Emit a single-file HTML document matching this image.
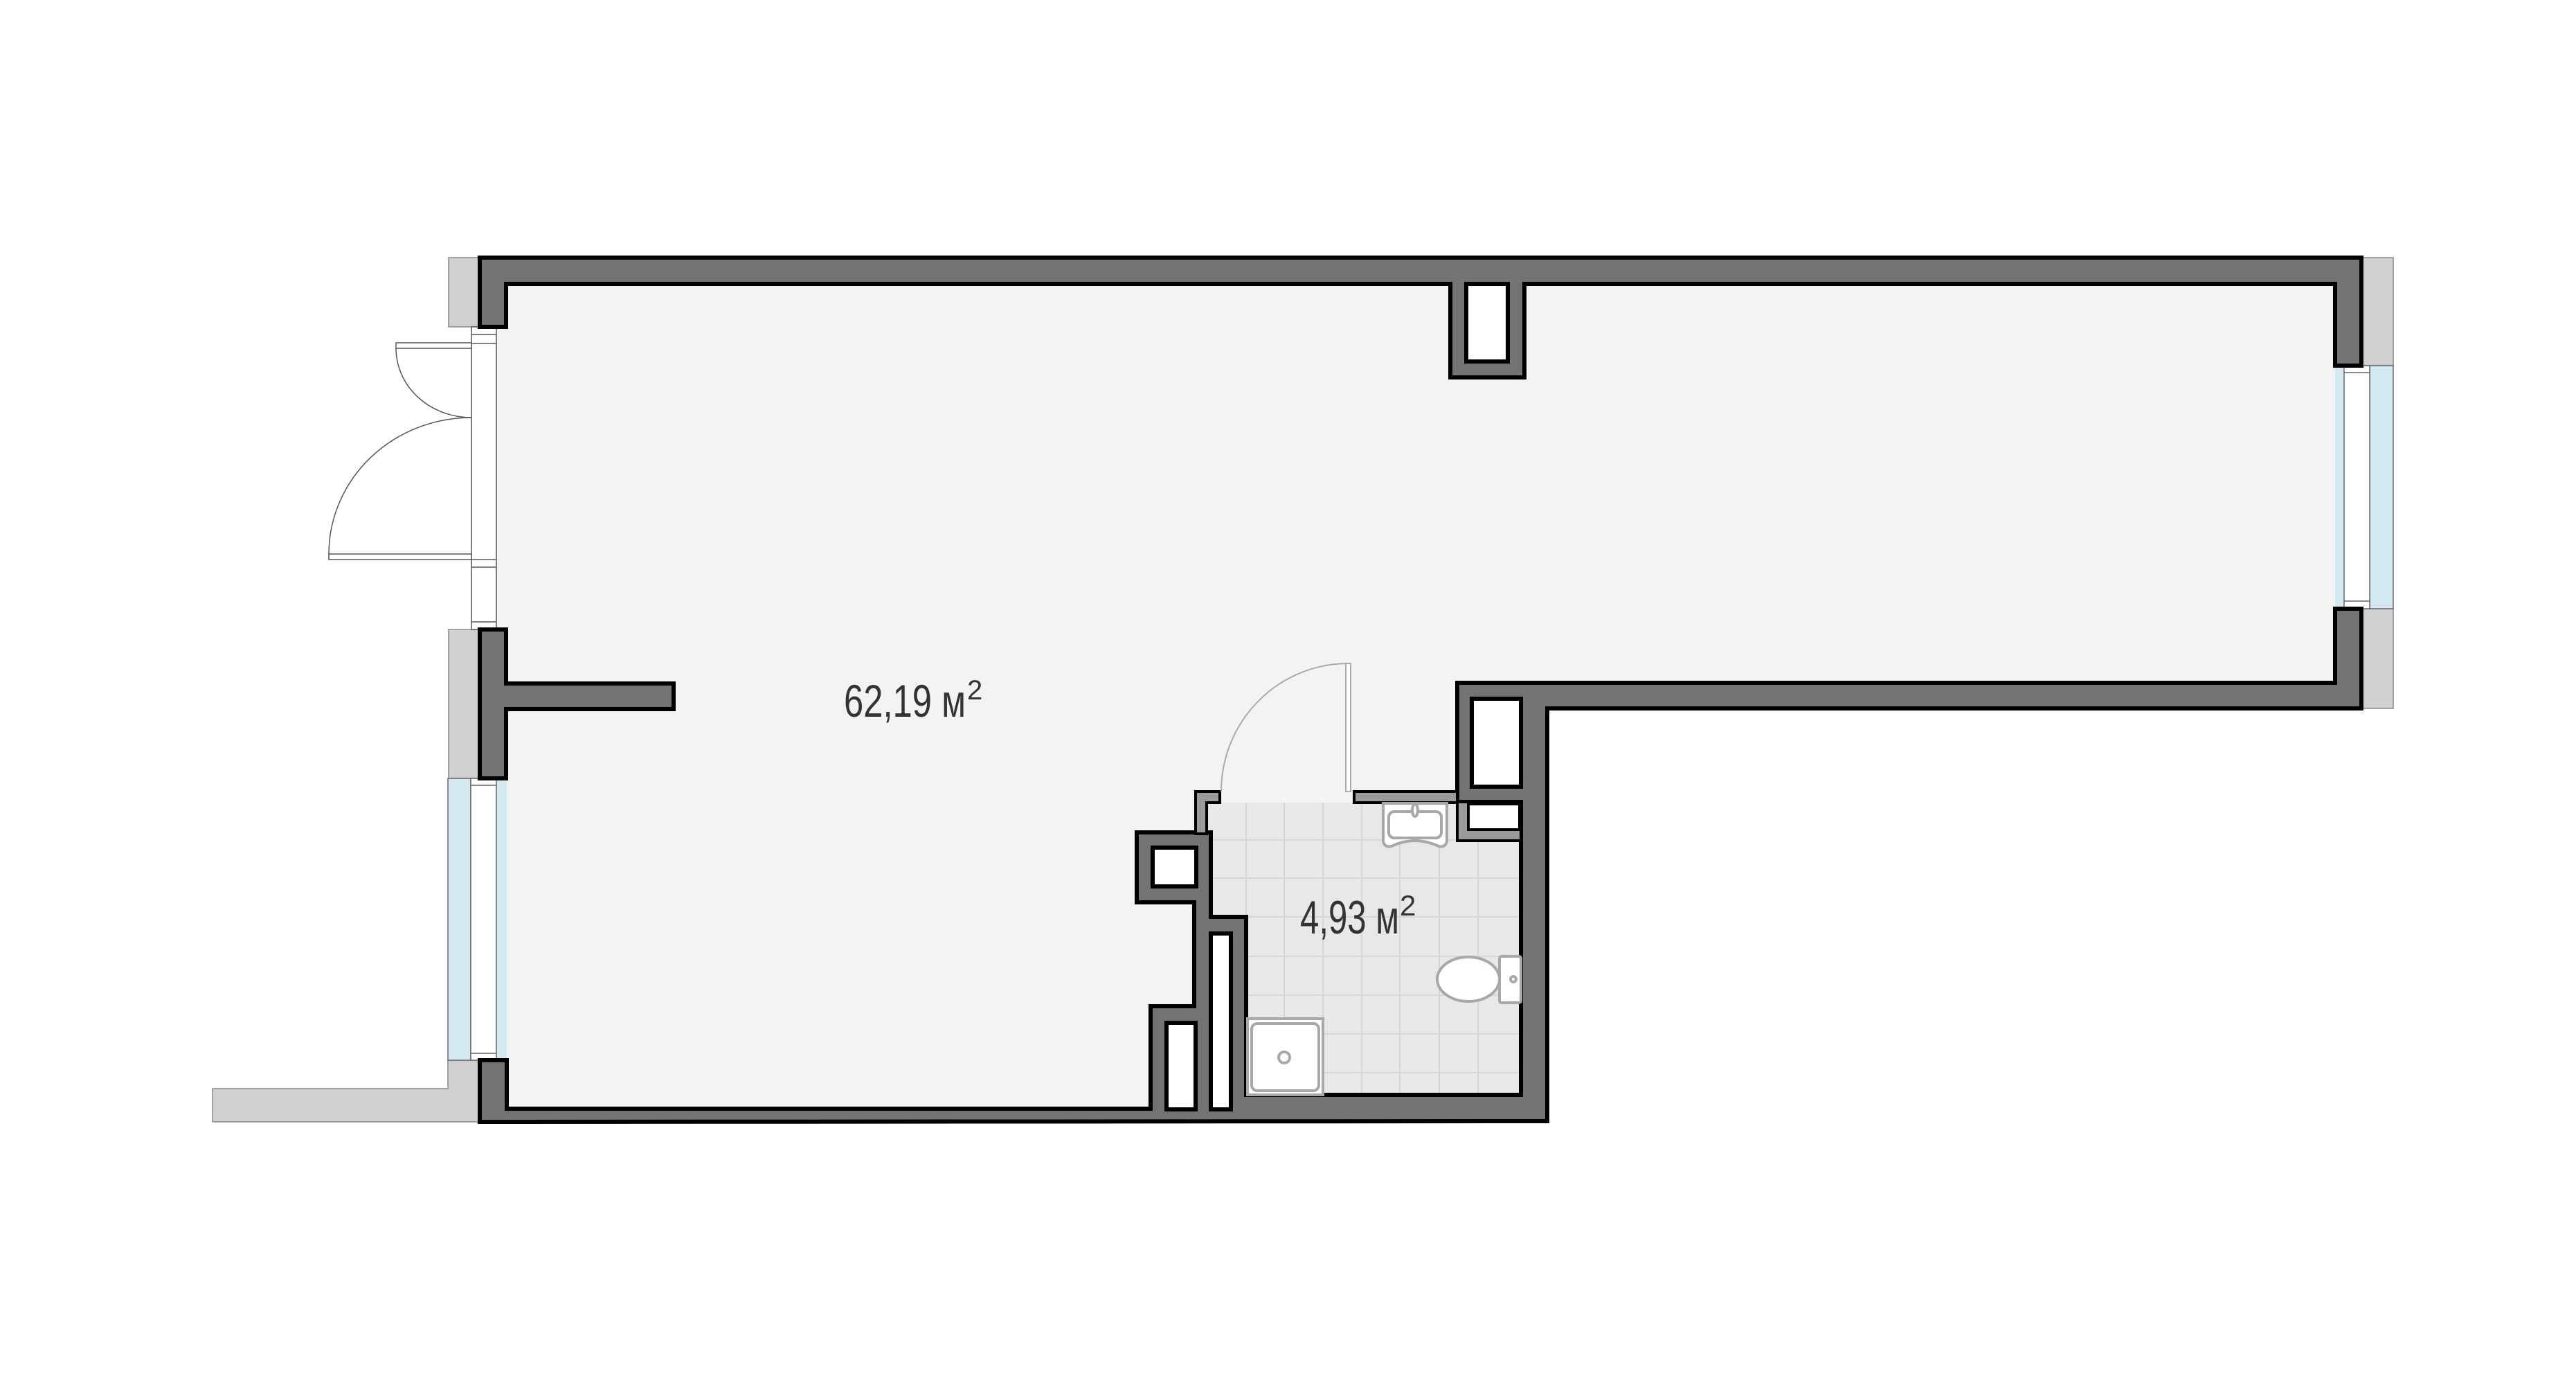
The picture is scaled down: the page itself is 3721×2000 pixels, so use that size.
<!DOCTYPE html>
<html><head><meta charset="utf-8"><style>html,body{margin:0;padding:0;background:#fff}svg{display:block}</style></head>
<body>
<svg width="3721" height="2000" viewBox="0 0 3721 2000" xmlns="http://www.w3.org/2000/svg">
<rect width="3721" height="2000" fill="#fff"/>
<!-- floors -->
<rect x="717" y="405" width="2660" height="585" fill="#f3f3f3"/>
<rect x="717" y="980" width="1392" height="625" fill="#f3f3f3"/>
<!-- bath floor -->
<rect x="1743" y="1159" width="454" height="422" fill="#e8e8e8"/>
<g stroke="#d6d6d6" stroke-width="2">
<line x1="1800" y1="1159" x2="1800" y2="1581"/><line x1="1855" y1="1159" x2="1855" y2="1581"/><line x1="1911" y1="1159" x2="1911" y2="1581"/><line x1="1967" y1="1159" x2="1967" y2="1581"/><line x1="2022" y1="1159" x2="2022" y2="1581"/><line x1="2079" y1="1159" x2="2079" y2="1581"/><line x1="2135" y1="1159" x2="2135" y2="1581"/>
<line x1="1743" y1="1213" x2="2197" y2="1213"/><line x1="1743" y1="1268" x2="2197" y2="1268"/><line x1="1743" y1="1324" x2="2197" y2="1324"/><line x1="1743" y1="1381" x2="2197" y2="1381"/><line x1="1743" y1="1437" x2="2197" y2="1437"/><line x1="1743" y1="1493" x2="2197" y2="1493"/><line x1="1743" y1="1549" x2="2197" y2="1549"/>
</g>
<!-- outside grey blocks -->
<g fill="#d0d0d0" stroke="#888" stroke-width="1.5">
<rect x="648" y="372" width="45" height="100"/>
<rect x="648" y="909" width="45" height="215"/>
<path d="M307,1572 L647,1572 L647,1531 L693,1531 L693,1620 L307,1620 Z"/>
<rect x="3411" y="372" width="46" height="156"/>
<rect x="3411" y="879" width="46" height="144"/>
</g>
<!-- windows -->
<g stroke="#666" stroke-width="1.5">
<rect x="647" y="1124" width="33" height="407" fill="#d3e9f1"/>
<rect x="717" y="1124" width="15" height="407" fill="#d3e9f1" stroke="none"/>
<rect x="680" y="1124" width="37" height="407" fill="#fff"/>
<line x1="680" y1="1134" x2="717" y2="1134"/><line x1="680" y1="1521" x2="717" y2="1521"/>
<rect x="3423" y="528" width="34" height="351" fill="#d3e9f1"/>
<rect x="3373" y="528" width="13" height="351" fill="#d3e9f1" stroke="none"/>
<rect x="3386" y="528" width="37" height="351" fill="#fff"/>
<line x1="3386" y1="538" x2="3423" y2="538"/><line x1="3386" y1="868" x2="3423" y2="868"/>
</g>
<!-- entrance door -->
<g stroke="#555" stroke-width="1.5" fill="#fff">
<rect x="681" y="472" width="36" height="437"/>
<line x1="681" y1="483" x2="717" y2="483"/><line x1="681" y1="496" x2="717" y2="496"/>
<line x1="681" y1="808" x2="717" y2="808"/><line x1="681" y1="819" x2="717" y2="819"/><line x1="681" y1="898" x2="717" y2="898"/>
<rect x="572" y="495" width="109" height="8"/>
<rect x="475" y="800" width="206" height="8"/>
<path d="M572,503 A109,100 0 0 0 681,603" fill="none"/>
<path d="M475,800 A206,197 0 0 1 681,603" fill="none"/>
</g>
<!-- walls -->
<g fill="#737373" stroke="#000" stroke-width="6" stroke-linejoin="miter">
<path d="M693,472 L693,372 L3411,372 L3411,528 L3373,528 L3373,410 L2202,410 L2202,545 L2095,545 L2095,410 L731,410 L731,472 Z"/>
<path d="M693,909 L731,909 L731,987 L973,987 L973,1024 L731,1024 L731,1124 L693,1124 Z"/>
<path d="M3373,879 L3411,879 L3411,1023 L2235,1023 L2235,1619 L693,1620 L693,1531 L732,1531 L732,1601 L1662,1601 L1662,1453 L1725,1453 L1725,1303 L1642,1303 L1642,1202 L1749,1202 L1749,1324 L1800,1324 L1800,1581 L2197,1581 L2197,1158 L2105,1158 L2105,986 L3373,986 Z"/>
</g>
<g fill="#fff" stroke="#000" stroke-width="6">
<rect x="2118" y="410" width="60" height="112"/>
<rect x="2126" y="1009" width="71" height="127"/>
<rect x="1665" y="1224" width="63" height="56"/>
<rect x="1685" y="1477" width="42" height="125"/>
<rect x="1749" y="1348" width="29" height="254"/>
</g>
<!-- light grey partitions -->
<g fill="#9a9a9a" stroke="#000" stroke-width="4">
<path d="M2105,1158 L2197,1158 L2197,1214 L2105,1214 Z"/>
<rect x="1956" y="1143" width="149" height="16"/>
<path d="M1727,1143 L1762,1143 L1762,1159 L1743,1159 L1743,1204 L1727,1204 Z"/>
</g>
<rect x="2121" y="1161" width="74" height="37" fill="#fff" stroke="#000" stroke-width="4"/>
<!-- bath door -->
<g stroke="#aaa" stroke-width="2" fill="#fff">
<rect x="1944" y="958" width="7" height="185"/>
<path d="M1948,958 A184,185 0 0 0 1764,1143" fill="none"/>
</g>
<!-- fixtures -->
<g stroke="#a8a8a8" stroke-width="4" fill="#fff">
<path d="M1998,1160 L2090,1160 L2090,1215 Q2088,1224 2078,1222 Q2044,1206 2010,1222 Q2000,1224 1998,1215 Z"/>
<rect x="2006" y="1172" width="76" height="38" rx="8"/>
<ellipse cx="2044" cy="1170" rx="4" ry="9" fill="#fff"/>
<rect x="2166" y="1381" width="31" height="67" rx="3"/>
<ellipse cx="2121" cy="1414" rx="45" ry="32"/>
<circle cx="2186" cy="1414" r="4"/>
<rect x="1802" y="1471" width="109" height="110"/>
<rect x="1808" y="1478" width="97" height="97" rx="8"/>
<circle cx="1855" cy="1527" r="8"/>
</g>
<!-- labels -->
<g font-family="'Liberation Sans Narrow','Liberation Sans',sans-serif" fill="#333">
<text x="1219" y="1035" font-size="66" textLength="176" lengthAdjust="spacingAndGlyphs">62,19 м</text>
<text x="1397" y="1010" font-size="40">2</text>
<text x="1878" y="1348" font-size="68" textLength="143" lengthAdjust="spacingAndGlyphs">4,93 м</text>
<text x="2022" y="1322" font-size="42">2</text>
</g>
</svg>
</body></html>
